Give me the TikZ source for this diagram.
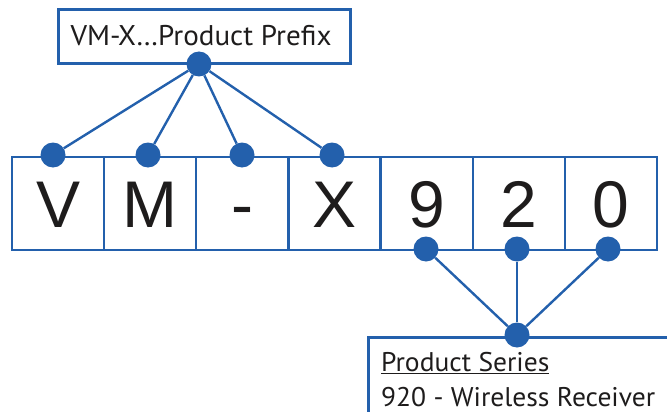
\documentclass[tikz,border=0pt]{standalone}
\usepackage{fontspec}
\setmainfont{PT Sans}[FakeStretch=1.02]
\newfontfamily\letterfont{Liberation Sans}
\definecolor{vblue}{RGB}{35,96,172}
\definecolor{vtext}{RGB}{30,28,28}
\begin{document}
\begin{tikzpicture}[x=1pt,y=-1pt,
  cell/.style={draw=vblue,line width=2.4pt,minimum width=92.14pt,minimum height=93pt,inner sep=0pt,
    font=\letterfont\fontsize{66}{66}\selectfont,text=vtext,text height=47pt,text depth=0pt},
  dot/.style={circle,fill=vblue,minimum size=25pt,inner sep=0pt},
  conn/.style={draw=vblue,line width=2.4pt},
  labelbox/.style={draw=vblue,line width=3pt,inner sep=0pt},
  labeltext/.style={font=\fontsize{27}{35}\selectfont,text=vtext,inner sep=0pt}]
\clip (0,0) rectangle (667,412);
\useasboundingbox (0,0) rectangle (667,412);
% character cells
\foreach \i/\ch in {1/V,2/M,3/-,4/X,5/9,6/2,7/0}{
  \node[cell] (c\i) at ({12+92.14*(\i-0.5)},203.5) {\ch};
}
% prefix label
\node[labelbox,minimum width=292pt,minimum height=54pt] (pbox) at (204,37) {};
\node[labeltext,font=\fontsize{28.5}{35}\selectfont,anchor=base] (ptext) at (201,46) {VM-X…Product Prefix};
\node[dot] (pj) at (199,64) {};
\node[dot] (d1) at (53,155) {};
\node[dot] (d2) at (148,155) {};
\node[dot] (d3) at (242,155) {};
\node[dot] (d4) at (332,155) {};
\foreach \k in {1,2,3,4}{ \draw[conn] (pj) -- (d\k); }
% series label
\node[labelbox,anchor=north west,minimum width=350pt,minimum height=120pt] (sbox) at (367,336) {};
\node[labeltext,anchor=base west,align=left] (stitle) at (381,371) {\underline{Product Series}};
\node[labeltext,anchor=base west] (sline) at (381,406) {920 - Wireless Receiver};
\node[dot] (sj) at (517,335) {};
\node[dot] (e5) at (426,249) {};
\node[dot] (e6) at (517,249) {};
\node[dot] (e7) at (608,249) {};
\foreach \k in {5,6,7}{ \draw[conn] (sj) -- (e\k); }
\end{tikzpicture}
\end{document}
